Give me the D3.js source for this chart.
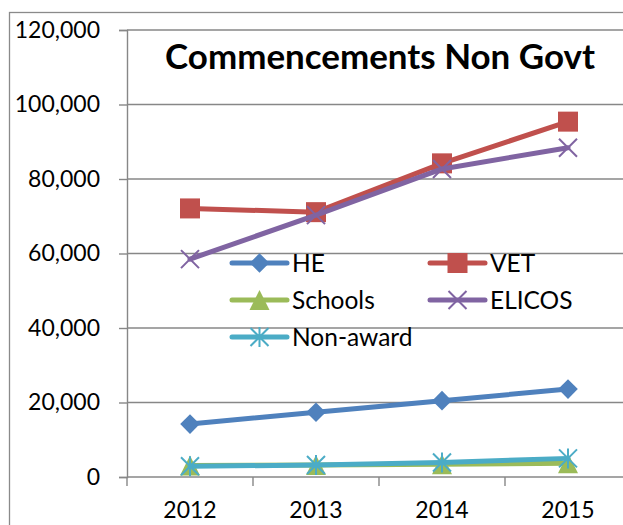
<!DOCTYPE html>
<html><head><meta charset="utf-8">
<script src="https://cdnjs.cloudflare.com/ajax/libs/d3/7.8.5/d3.min.js"></script>
<style>body{margin:0;background:#fff}svg{display:block}</style></head><body>
<svg id="c" width="623" height="525"></svg>
<script>
const years = ["2012", "2013", "2014", "2015"];
const seriesNames = ["HE", "VET", "Schools", "ELICOS", "Non-award"];
const heValues = [14200, 17400, 20500, 23600];
const vetValues = [72100, 71100, 84200, 95400];
const schoolsValues = [3100, 3200, 3400, 3700];
const elicosValues = [58500, 70300, 82700, 88400];
const nonAwardValues = [2900, 3200, 3900, 5000];
const yTicks = [0, 20000, 40000, 60000, 80000, 100000, 120000];
const titleText = "Commencements Non Govt";

const colors = ["#4F81BD", "#C0504D", "#9BBB59", "#8064A2", "#4BACC6"];
const markerTypes = ["diamond", "square", "triangle", "x", "star"];
const series = [heValues, vetValues, schoolsValues, elicosValues, nonAwardValues].map((v, i) => ({
  name: seriesNames[i], values: v, color: colors[i], marker: markerTypes[i]
}));

const svg = d3.select("#c");
const font = "Lato, 'Open Sans', sans-serif";
const grid = "#878787";
const pLeft = 127, pRight = 631, pTop = 30, pBottom = 477;

const x = d3.scaleBand().domain(years).range([pLeft, pRight]);
const xc = d => x(d) + x.bandwidth() / 2;
const y = d3.scaleLinear().domain([0, 120000]).range([pBottom, pTop]);

// outer border
svg.append("rect").attr("x", 9.5).attr("y", 12.5).attr("width", 700).attr("height", 600)
  .attr("fill", "none").attr("stroke", "#8a8a8a").attr("stroke-width", 1.3);

// gridlines
svg.append("g").selectAll("line").data(yTicks).join("line")
  .attr("x1", pLeft).attr("x2", pRight)
  .attr("y1", d => y(d)).attr("y2", d => y(d))
  .attr("stroke", grid).attr("stroke-width", 1.4);

// y axis
const yAxis = svg.append("g").attr("transform", `translate(${pLeft},0)`)
  .call(d3.axisLeft(y).tickValues(yTicks).tickSize(8).tickPadding(19).tickFormat(d3.format(",")));
yAxis.select(".domain").attr("stroke", grid).attr("stroke-width", 1.4);
yAxis.selectAll(".tick line").attr("stroke", grid).attr("stroke-width", 1.4);
yAxis.selectAll("text").attr("font-family", font).attr("font-size", 23).attr("fill", "#000");

// x axis
const xAxis = svg.append("g").attr("transform", `translate(0,${pBottom})`)
  .call(d3.axisBottom(x).tickSize(0).tickPadding(25));
xAxis.select(".domain").remove();
xAxis.selectAll("text").attr("font-family", font).attr("font-size", 23).attr("fill", "#000");
svg.append("g").selectAll("line").data(years.map(d => x(d)).concat([pRight])).join("line")
  .attr("x1", d => d).attr("x2", d => d).attr("y1", pBottom).attr("y2", pBottom + 9)
  .attr("stroke", grid).attr("stroke-width", 1.4);

// title
const title = svg.append("text").attr("x", 380).attr("y", 69).attr("text-anchor", "middle")
  .attr("font-family", font).attr("font-weight", 700).attr("font-size", 30).attr("fill", "#000")
  .text(titleText);
const tw = title.node().getComputedTextLength();
title.attr("font-size", 30 * 430 / tw);

function drawMarker(g, type, color, cx, cy) {
  if (type === "diamond") {
    const r = 9.8;
    g.append("path").attr("d", `M${cx},${cy - r}L${cx + r},${cy}L${cx},${cy + r}L${cx - r},${cy}Z`).attr("fill", color);
  } else if (type === "square") {
    g.append("rect").attr("x", cx - 10).attr("y", cy - 10).attr("width", 20).attr("height", 20).attr("fill", color);
  } else if (type === "triangle") {
    g.append("path").attr("d", `M${cx},${cy - 10}L${cx + 10},${cy + 10}L${cx - 10},${cy + 10}Z`).attr("fill", color);
  } else if (type === "x") {
    const r = 9;
    g.append("path").attr("d", `M${cx - r},${cy - r}L${cx + r},${cy + r}M${cx - r},${cy + r}L${cx + r},${cy - r}`)
      .attr("stroke", color).attr("stroke-width", 2).attr("fill", "none");
  } else if (type === "star") {
    const r = 9;
    g.append("path").attr("d", `M${cx - r},${cy - r}L${cx + r},${cy + r}M${cx - r},${cy + r}L${cx + r},${cy - r}M${cx},${cy - r - 1}L${cx},${cy + r + 1}`)
      .attr("stroke", color).attr("stroke-width", 2).attr("fill", "none");
  }
}

// series
const line = d3.line().x((d, i) => xc(years[i])).y(d => y(d));
series.forEach(s => {
  const g = svg.append("g");
  g.append("path").attr("d", line(s.values)).attr("fill", "none").attr("stroke", s.color)
    .attr("stroke-width", 5).attr("stroke-linejoin", "round").attr("stroke-linecap", "round");
  s.values.forEach((v, i) => drawMarker(g, s.marker, s.color, xc(years[i]), y(v)));
});

// legend
const legX = [232, 430], legY = [263, 300, 337];
series.forEach((s, i) => {
  const lx = legX[i % 2], ly = legY[Math.floor(i / 2)];
  const g = svg.append("g");
  g.append("line").attr("x1", lx).attr("x2", lx + 55).attr("y1", ly).attr("y2", ly)
    .attr("stroke", s.color).attr("stroke-width", 5).attr("stroke-linecap", "round");
  drawMarker(g, s.marker, s.color, lx + 27.5, ly);
  g.append("text").attr("x", lx + 60).attr("y", ly).attr("dy", "0.36em")
    .attr("font-family", font).attr("font-size", 24.5).attr("fill", "#000").text(s.name);
});
</script></body></html>
